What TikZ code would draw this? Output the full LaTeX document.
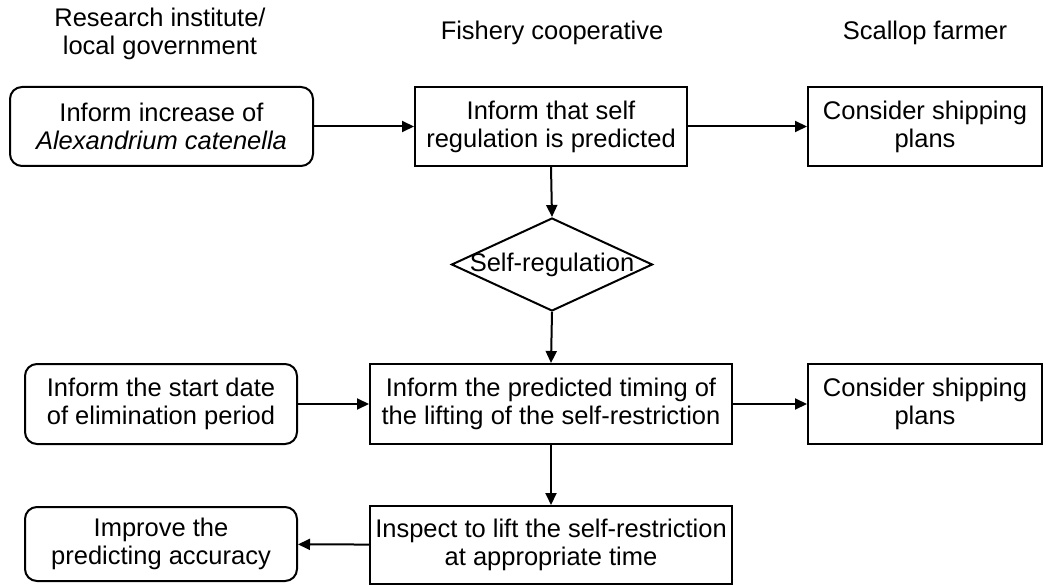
\documentclass[tikz,border=0pt]{standalone}
\usepackage{fontspec}
\setmainfont{Liberation Sans}
\usepackage{tikz}
\usetikzlibrary{arrows.meta,shapes.geometric}

\begin{document}
\begin{tikzpicture}[x=1pt,y=-1pt,
  font=\fontsize{25.5}{28}\selectfont,
  box/.style={draw,line width=2pt,align=center,inner sep=0pt,minimum height=79pt},
  rbox/.style={box,rounded corners=12pt},
  decision/.style={draw,diamond,line width=2pt,inner sep=0pt,minimum width=201pt,minimum height=93pt},
  arr/.style={line width=2pt,-{Triangle[length=12pt,width=11pt]}}]
  \useasboundingbox (0,0) rectangle (1048,585);
  %\draw[red] (0,0) rectangle (1048,585);
  % column heads
  \node[align=center] (hresearch) at (160,34) {Research institute/\\local government};
  \node (hfishery) at (552,33) {Fishery cooperative};
  \node (hfarmer) at (925,33) {Scallop farmer};
  % first row
  \node[rbox,minimum width=303pt] (inform) at (161.5,126.5) {Inform increase of\\\textit{Alexandrium catenella}};
  \node[box,minimum width=272pt] (predict) at (551,126.5) {Inform that self\\regulation is predicted};
  \node[box,minimum width=234pt] (plansA) at (925,126.5) {Consider shipping\\plans};
  \node[decision] (selfreg) at (552,264.5) {\makebox[0pt]{Self-regulation}};
  % second row
  \node[rbox,minimum width=272pt,minimum height=80pt] (startdate) at (161,404) {Inform the start date\\of elimination period};
  \node[box,minimum width=362pt,minimum height=80pt] (timing) at (551,404) {Inform the predicted timing of\\the lifting of the self-restriction};
  \node[box,minimum width=234pt,minimum height=80pt] (plansB) at (925,404) {Consider shipping\\plans};
  % third row
  \node[rbox,minimum width=272pt,minimum height=74pt] (accuracy) at (161,544) {Improve the\\predicting accuracy};
  \node[box,minimum width=362pt,minimum height=78pt] (inspect) at (551,545) {Inspect to lift the self-restriction\\at appropriate time};
  % connectors
  \draw[arr] (inform) -- (predict);
  \draw[arr] (predict) -- (plansA);
  \draw[arr] (predict.south) -- (selfreg.north);
  \draw[arr] (selfreg.south) -- (timing.north);
  \draw[arr] (startdate) -- (timing);
  \draw[arr] (timing) -- (plansB);
  \draw[arr] (timing.south) -- (inspect.north);
  \draw[arr] (inspect) -- (accuracy);
\end{tikzpicture}
\end{document}
